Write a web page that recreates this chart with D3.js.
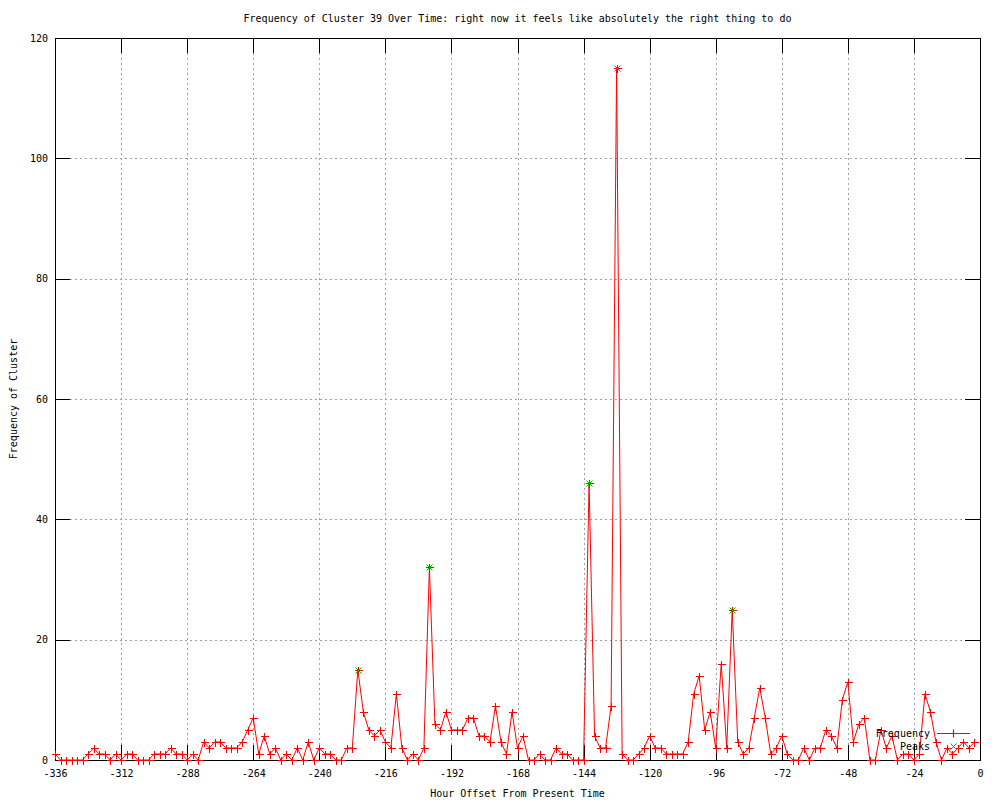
<!DOCTYPE html>
<html>
<head>
<meta charset="utf-8">
<style>
  body { margin: 0; background: #fff; }
  text { font-family: "DejaVu Sans Mono", "Liberation Mono", monospace; font-size: 10px; fill: #000; }
</style>
</head>
<body>
<svg width="1000" height="800"></svg>
<script src="https://d3js.org/d3.v7.min.js"></script>
<script>
  var svg = d3.select("svg"),
      margin = {top: 38, right: 20, bottom: 40, left: 55},
      width = +svg.attr("width") - margin.left - margin.right,
      height = +svg.attr("height") - margin.top - margin.bottom,
      g = svg.append("g").attr("transform", "translate(" + margin.left + "," + margin.top + ")");

  // one bin every 2 hours, from -336 to -2
  var hours = d3.range(-336, 0, 2);

  var counts = [
    1,0,0,0,0,0,1,2,1,1,
    0,1,0,1,1,0,0,0,1,1,
    1,2,1,1,0,1,0,3,2,3,
    3,2,2,2,3,5,7,1,4,1,
    2,0,1,0,2,0,3,0,2,1,
    1,0,0,2,2,15,8,5,4,5,
    3,2,11,2,0,1,0,2,32,6,
    5,8,5,5,5,7,7,4,4,3,
    9,3,1,8,2,4,0,0,1,0,
    0,2,1,1,0,0,0,46,4,2,
    2,9,115,1,0,0,1,2,4,2,
    2,1,1,1,1,3,11,14,5,8,
    2,16,2,25,3,1,2,7,12,7,
    1,2,4,1,0,0,2,0,2,2,
    5,4,2,10,13,3,6,7,0,0,
    5,2,4,0,1,1,0,1,11,8,
    3,0,2,1,2,3,2,3
  ];

  var peakHours = [-226, -200, -142, -132, -90];

  var xTicks = [-336, -312, -288, -264, -240, -216, -192, -168, -144, -120, -96, -72, -48, -24, 0];
  var yTicks = [0, 20, 40, 60, 80, 100, 120];

  var data = hours.map(function(h, i) { return {hour: h, count: counts[i]}; });
  var peaks = data.filter(function(d) { return peakHours.indexOf(d.hour) >= 0; });

  var x = d3.scaleLinear().domain([-336, 0]).range([0, width]);
  var y = d3.scaleLinear().domain([0, 120]).range([height, 0]);

  // grid
  g.append("g")
      .selectAll("line")
      .data(xTicks.slice(1, -1))
      .enter().append("line")
      .attr("x1", function(d) { return Math.round(x(d)) + 0.5; })
      .attr("x2", function(d) { return Math.round(x(d)) + 0.5; })
      .attr("y1", 0)
      .attr("y2", height)
      .attr("stroke", "#a0a0a0")
      .attr("stroke-dasharray", "2,3")
      .attr("shape-rendering", "crispEdges");

  g.append("g")
      .selectAll("line")
      .data(yTicks.slice(1, -1))
      .enter().append("line")
      .attr("x1", 0)
      .attr("x2", width)
      .attr("y1", function(d) { return Math.round(y(d)) + 0.5; })
      .attr("y2", function(d) { return Math.round(y(d)) + 0.5; })
      .attr("stroke", "#a0a0a0")
      .attr("stroke-dasharray", "2,3")
      .attr("shape-rendering", "crispEdges");

  // axes, ticks pointing inward like gnuplot
  var tick = 15;
  function styleAxis(sel) {
    sel.select(".domain").remove();
    sel.selectAll(".tick line").attr("stroke", "#000").attr("shape-rendering", "crispEdges");
    sel.attr("font-family", null).attr("font-size", null);
  }

  g.append("g")
      .attr("transform", "translate(0," + height + ")")
      .call(d3.axisBottom(x).tickValues(xTicks).tickSize(-tick).tickPadding(10).tickFormat(d3.format("d")))
      .call(styleAxis);

  g.append("g")
      .call(d3.axisTop(x).tickValues(xTicks).tickSize(-tick).tickFormat(""))
      .call(styleAxis);

  g.append("g")
      .call(d3.axisLeft(y).tickValues(yTicks).tickSize(-tick).tickPadding(7))
      .call(styleAxis);

  g.append("g")
      .attr("transform", "translate(" + width + ",0)")
      .call(d3.axisRight(y).tickValues(yTicks).tickSize(-tick).tickFormat(""))
      .call(styleAxis);

  g.selectAll(".tick text").text(function() { return this.textContent.replace("\u2212", "-"); });

  g.append("rect")
      .attr("x", 0.5)
      .attr("y", 0.5)
      .attr("width", width)
      .attr("height", height)
      .attr("fill", "none")
      .attr("stroke", "#000")
      .attr("shape-rendering", "crispEdges");

  // frequency line
  var line = d3.line()
      .x(function(d) { return x(d.hour); })
      .y(function(d) { return y(d.count); });

  g.append("path")
      .datum(data)
      .attr("fill", "none")
      .attr("stroke", "#ff0000")
      .attr("stroke-width", 1)
      .attr("d", line);

  function plus(px, py, r) {
    return "M" + (px - r) + "," + py + "H" + (px + r) + "M" + px + "," + (py - r) + "V" + (py + r);
  }
  function cross(px, py, r) {
    return "M" + (px - r) + "," + (py - r) + "L" + (px + r) + "," + (py + r) +
           "M" + (px - r) + "," + (py + r) + "L" + (px + r) + "," + (py - r);
  }

  g.append("path")
      .attr("fill", "none")
      .attr("stroke", "#ff0000")
      .attr("d", data.map(function(d) {
        return plus(Math.round(x(d.hour)) + 0.5, Math.round(y(d.count)) + 0.5, 4);
      }).join(""))
      .attr("shape-rendering", "crispEdges");

  g.append("path")
      .attr("fill", "none")
      .attr("stroke", "#00c000")
      .attr("d", peaks.map(function(d) {
        return cross(Math.round(x(d.hour)) + 0.5, Math.round(y(d.count)) + 0.5, 3);
      }).join(""));

  // legend
  var lx = 938, ly = 733;
  svg.append("text").attr("x", lx - 8).attr("y", ly).attr("dy", "0.35em").attr("text-anchor", "end").text("Frequency");
  svg.append("path")
      .attr("fill", "none")
      .attr("stroke", "#ff0000")
      .attr("stroke-width", 1.2)
      .attr("d", "M" + (lx - 1) + "," + (ly + 0.5) + "H" + (lx + 32) + plus(lx + 15.5, ly + 0.5, 4));
  svg.append("text").attr("x", lx - 8).attr("y", ly + 13).attr("dy", "0.35em").attr("text-anchor", "end").text("Peaks");
  svg.append("path").attr("fill", "none").attr("stroke", "#00c000").attr("d", cross(lx + 15.5, ly + 13.5, 3));

  // titles
  svg.append("text")
      .attr("x", margin.left + width / 2)
      .attr("y", 22)
      .attr("text-anchor", "middle")
      .text("Frequency of Cluster 39 Over Time: right now it feels like absolutely the right thing to do");

  svg.append("text")
      .attr("x", margin.left + width / 2)
      .attr("y", 797)
      .attr("text-anchor", "middle")
      .text("Hour Offset From Present Time");

  svg.append("text")
      .attr("transform", "translate(17," + (margin.top + height / 2) + ") rotate(-90)")
      .attr("text-anchor", "middle")
      .text("Frequency of Cluster");
</script>
</body>
</html>
